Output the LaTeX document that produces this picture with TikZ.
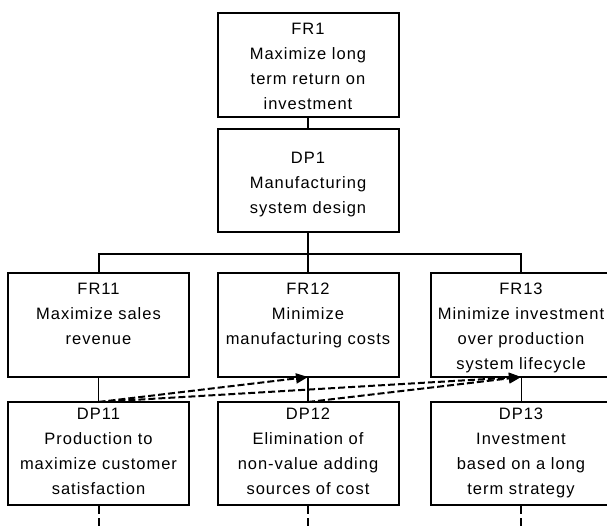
\documentclass[tikz,border=0pt]{standalone}
\usepackage{fontspec}
\newfontfamily\boxfont{Liberation Sans}[LetterSpace=6]
\usetikzlibrary{arrows.meta}

\tikzset{
  box/.style={draw, line width=2pt, outer sep=0pt, inner sep=0pt,
              minimum width=181pt, minimum height=#1},
  box/.default=104pt,
  txt/.style={anchor=north, align=center, inner sep=0pt,
              font={\boxfont\fontsize{16.5pt}{25pt}\selectfont}},
  thick line/.style={line width=2pt},
  thin line/.style={line width=1pt},
  link/.style={line width=2pt, dash pattern=on 7pt off 3pt,
               -{Triangle[length=12pt,width=10pt]}},
  stub/.style={line width=2pt, dash pattern=on 9pt off 4pt},
}

\begin{document}
\begin{tikzpicture}[x=1pt,y=-1pt]
  \fill[white] (0,0) rectangle (607,526);
  \useasboundingbox (0,0) rectangle (607,526);

  % top level
  \node[box] (fr1) at (308,65) {};
  \node[box=103pt] (dp1) at (308,180.5) {};
  \node[txt] (fr1t) at ([yshift=-10pt]fr1.north)
    {FR1\\Maximize long\\term return on\\investment};
  \node[txt] (dp1t) at ([yshift=-23pt]dp1.north)
    {DP1\\Manufacturing\\system design};

  % second level: functional requirements
  \node[box] (fr11) at (98.5,325) {};
  \node[box] (fr12) at (308,325) {};
  \node[box] (fr13) at (521,325) {};
  \node[txt] (fr11t) at ([yshift=-10pt]fr11.north)
    {FR11\\Maximize sales\\revenue};
  \node[txt] (fr12t) at ([yshift=-10pt]fr12.north)
    {FR12\\Minimize\\manufacturing costs};
  \node[txt] (fr13t) at ([yshift=-10pt]fr13.north)
    {FR13\\Minimize investment\\over production\\system lifecycle};

  % second level: design parameters
  \node[box=103pt] (dp11) at (98.5,453.5) {};
  \node[box=103pt] (dp12) at (308,453.5) {};
  \node[box=103pt] (dp13) at (521,453.5) {};
  \node[txt] (dp11t) at ([yshift=-6pt]dp11.north)
    {DP11\\Production to\\maximize customer\\satisfaction};
  \node[txt] (dp12t) at ([yshift=-6pt]dp12.north)
    {DP12\\Elimination of\\non-value adding\\sources of cost};
  \node[txt] (dp13t) at ([yshift=-6pt]dp13.north)
    {DP13\\Investment\\based on a long\\term strategy};

  % hierarchy
  \coordinate (bar) at (308,254);
  \draw[thick line] (fr1.south) -- (dp1.north);
  \draw[thick line] (dp1.south) -- (fr12.north);
  \draw[thick line] (fr11.north) |- (bar) -| (fr13.north);

  % FR-DP pairs
  \draw[thin line] (fr11.south) -- (dp11.north);
  \draw[thick line] (fr12.south) -- (dp12.north);
  \draw[thin line] (fr13.south) -- (dp13.north);

  % coupling between DPs and FRs
  \draw[link] (dp11.north) -- (fr12.south);
  \draw[link] (dp11.north) -- (fr13.south);
  \draw[link] (dp12.north) -- (fr13.south);

  % continuation below
  \coordinate (c11) at (98.5,530);
  \coordinate (c12) at (308,530);
  \coordinate (c13) at (521,530);
  \draw[stub] (dp11.south) -- (c11);
  \draw[stub] (dp12.south) -- (c12);
  \draw[stub] (dp13.south) -- (c13);
\end{tikzpicture}
\end{document}
